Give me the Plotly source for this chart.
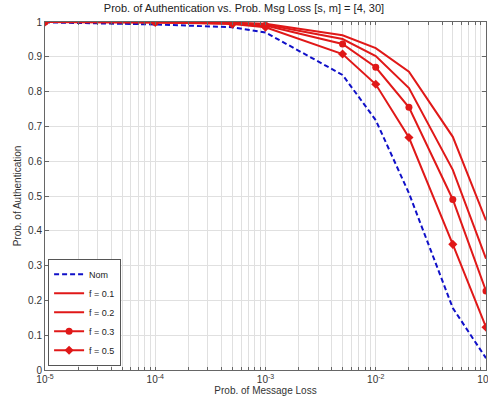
import plotly.graph_objects as go

p_loss = [1e-5, 1e-4, 5e-4, 1e-3, 5e-3, 1e-2, 2e-2, 5e-2, 1e-1]
nom = [0.999, 0.993, 0.985, 0.970, 0.848, 0.718, 0.508, 0.178, 0.034]
f01 = [1.000, 1.000, 0.998, 0.995, 0.962, 0.925, 0.857, 0.670, 0.430]
f02 = [1.000, 1.000, 0.997, 0.993, 0.951, 0.902, 0.810, 0.575, 0.320]
f03 = [1.000, 0.999, 0.996, 0.990, 0.937, 0.870, 0.755, 0.490, 0.227]
f05 = [1.000, 0.999, 0.994, 0.985, 0.908, 0.821, 0.668, 0.361, 0.123]

decades = [1e-5, 1e-4, 1e-3, 1e-2, 1e-1]
decade_labels = ["10<sup>-5</sup>", "10<sup>-4</sup>", "10<sup>-3</sup>", "10<sup>-2</sup>", "10<sup>-1</sup>"]
y_tick_vals = [0, 0.1, 0.2, 0.3, 0.4, 0.5, 0.6, 0.7, 0.8, 0.9, 1]
y_tick_text = ["0", "0.1", "0.2", "0.3", "0.4", "0.5", "0.6", "0.7", "0.8", "0.9", "1"]

# x tick positions: every decade plus its 2..9 multiples (labels only at decades)
x_tick_vals = []
x_tick_text = []
for d, lab in zip(decades, decade_labels):
    x_tick_vals.append(d)
    x_tick_text.append(lab)
    if d < 1e-1:
        for m in range(2, 10):
            x_tick_vals.append(d * m)
            x_tick_text.append("")

RED = "#e01818"
BLUE = "#1010c8"

fig = go.Figure()
fig.add_trace(go.Scatter(x=p_loss, y=nom, name="Nom", mode="lines",
                         line=dict(color=BLUE, width=2, dash="5px,3px")))
fig.add_trace(go.Scatter(x=p_loss, y=f01, name="f = 0.1", mode="lines",
                         line=dict(color=RED, width=2)))
fig.add_trace(go.Scatter(x=p_loss, y=f02, name="f = 0.2", mode="lines",
                         line=dict(color=RED, width=2)))
fig.add_trace(go.Scatter(x=p_loss, y=f03, name="f = 0.3", mode="lines+markers",
                         line=dict(color=RED, width=2),
                         marker=dict(symbol="circle", size=7, color=RED)))
fig.add_trace(go.Scatter(x=p_loss, y=f05, name="f = 0.5", mode="lines+markers",
                         line=dict(color=RED, width=2),
                         marker=dict(symbol="diamond", size=7, color=RED)))

fig.update_layout(
    width=488, height=405,
    paper_bgcolor="white", plot_bgcolor="white",
    margin=dict(l=45, r=2, t=22, b=35),
    font=dict(family="Liberation Sans, Arial, sans-serif", size=10, color="#333333"),
    title=dict(text="Prob. of Authentication vs. Prob. Msg Loss [s, m] = [4, 30]",
               x=0.5, xanchor="center", y=0.99, yanchor="top",
               font=dict(size=11, color="#222222")),
    showlegend=True,
    legend=dict(x=0.007, y=0.012, xanchor="left", yanchor="bottom",
                bgcolor="white", bordercolor="#555555", borderwidth=1,
                font=dict(size=9, color="#222222"),
                tracegroupgap=0, itemwidth=30),
)

fig.update_xaxes(
    type="log", range=[-5, -1], automargin=False,
    tickmode="array", tickvals=x_tick_vals, ticktext=x_tick_text,
    ticks="inside", ticklen=3, tickcolor="#666666",
    showline=True, linecolor="#666666", linewidth=1, mirror="ticks",
    showgrid=True, gridcolor="#e0e0e0", gridwidth=1,
    zeroline=False, ticklabeloverflow="allow",
    title=dict(text="Prob. of Message Loss", standoff=2, font=dict(size=10)),
    tickfont=dict(size=10),
)
fig.update_yaxes(
    range=[0, 1], automargin=False,
    tickmode="array", tickvals=y_tick_vals, ticktext=y_tick_text,
    ticks="inside", ticklen=4, tickcolor="#666666",
    showline=True, linecolor="#666666", linewidth=1, mirror="ticks",
    showgrid=True, gridcolor="#e0e0e0", gridwidth=1,
    zeroline=False,
    title=dict(text="Prob. of Authentication", standoff=4, font=dict(size=10)),
    tickfont=dict(size=10),
)

fig.write_html("out.html", config={"displayModeBar": False},
               post_script="document.body.style.margin='0';")
